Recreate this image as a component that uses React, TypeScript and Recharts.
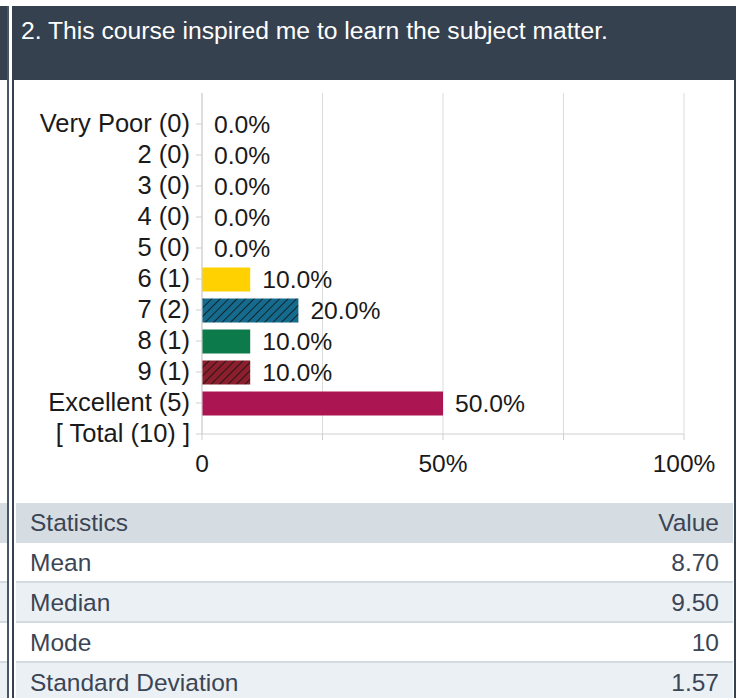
import React from "react";
import {
  BarChart,
  Bar,
  XAxis,
  YAxis,
  CartesianGrid,
  Cell,
  LabelList,
} from "recharts";

const categories = [
  "Very Poor (0)",
  "2 (0)",
  "3 (0)",
  "4 (0)",
  "5 (0)",
  "6 (1)",
  "7 (2)",
  "8 (1)",
  "9 (1)",
  "Excellent (5)",
  "[ Total (10) ]",
];
const percents: (number | null)[] = [0, 0, 0, 0, 0, 10, 20, 10, 10, 50, null];
const barFills = [
  "#ffd100",
  "#ffd100",
  "#ffd100",
  "#ffd100",
  "#ffd100",
  "#ffd100",
  "url(#hatchBlue)",
  "#0c7a4b",
  "url(#hatchRed)",
  "#ab1652",
  "#ab1652",
];
const xTicks = [0, 25, 50, 75, 100];
const xTickLabels: Record<number, string> = { 0: "0", 25: "", 50: "50%", 75: "", 100: "100%" };

const titleText = "2. This course inspired me to learn the subject matter.";
const statsHeader = ["Statistics", "Value"];
const statNames = ["Mean", "Median", "Mode", "Standard Deviation"];
const statValues = ["8.70", "9.50", "10", "1.57"];

const data = categories.map((name, i) => ({ name, pct: percents[i] }));

const FONT = "'Liberation Sans', Arial, Helvetica, sans-serif";
const DARK = "#36414f";
const TEXT_SLATE = "#3b4555";
const HEAD_BG = "#d6dde2";
const ALT_BG = "#ebf0f4";
const SEP = "#d3dae0";

export default function App() {
  const rowTops = [543, 583, 623, 663];
  return (
    <div
      style={{
        position: "absolute",
        left: 0,
        top: 0,
        width: 736,
        height: 698,
        overflow: "hidden",
        background: "#fff",
        fontFamily: FONT,
      }}
    >
      {/* left neighbour panel */}
      <div style={{ position: "absolute", left: 0, top: 6, width: 8, height: 74, background: DARK }} />
      <div style={{ position: "absolute", left: 0, top: 503, width: 7, height: 40, background: HEAD_BG }} />
      {rowTops.map((t, i) => (
        <div
          key={"l" + i}
          style={{
            position: "absolute",
            left: 0,
            top: t,
            width: 7,
            height: 38,
            background: i % 2 === 1 ? ALT_BG : "#fff",
            borderBottom: `2px solid ${SEP}`,
          }}
        />
      ))}
      <div style={{ position: "absolute", left: 7, top: 6, width: 2, height: 692, background: "#4a5565" }} />

      {/* main panel borders */}
      <div style={{ position: "absolute", left: 12, top: 6, width: 2, height: 692, background: DARK }} />
      <div style={{ position: "absolute", left: 734, top: 6, width: 2, height: 692, background: DARK }} />

      {/* header */}
      <div
        style={{
          position: "absolute",
          left: 14,
          top: 6,
          width: 720,
          height: 74,
          background: DARK,
        }}
      />
      <div
        style={{
          position: "absolute",
          left: 21,
          top: 17,
          fontSize: 24.7,
          lineHeight: "28px",
          color: "#ffffff",
          whiteSpace: "nowrap",
        }}
      >
        {titleText}
      </div>

      {/* chart */}
      <div style={{ position: "absolute", left: 14, top: 80 }}>
        <BarChart
          width={720}
          height={423}
          data={data}
          layout="vertical"
          margin={{ top: 13, right: 50, bottom: 29, left: 0 }}
        >
          <defs>
            <pattern
              id="hatchBlue"
              patternUnits="userSpaceOnUse"
              width={6}
              height={6}
              patternTransform="rotate(45)"
            >
              <rect x={0} y={0} width={6} height={6} fill="#146b8e" />
              <line x1={0} y1={0} x2={0} y2={6} stroke="#111" strokeWidth={1.6} />
            </pattern>
            <pattern
              id="hatchRed"
              patternUnits="userSpaceOnUse"
              width={6}
              height={6}
              patternTransform="rotate(45)"
            >
              <rect x={0} y={0} width={6} height={6} fill="#8c1f2e" />
              <line x1={0} y1={0} x2={0} y2={6} stroke="#111" strokeWidth={1.6} />
            </pattern>
          </defs>
          <CartesianGrid horizontal={false} stroke="#dcdcdc" />
          <XAxis
            type="number"
            domain={[0, 100]}
            ticks={xTicks}
            interval={0}
            height={40}
            tickSize={6}
            tickMargin={15}
            tickFormatter={(v: number) => xTickLabels[v] ?? ""}
            tick={{ fontSize: 24.5, fill: "#1a1a1a", fontFamily: FONT }}
            axisLine={{ stroke: "#cfcfcf" }}
            tickLine={{ stroke: "#cfcfcf" }}
          />
          <YAxis
            type="category"
            dataKey="name"
            width={188}
            interval={0}
            tickSize={6}
            tickMargin={6}
            padding={{ top: 15.5, bottom: -15.5 }}
            tick={{ fontSize: 25.5, fill: "#1a1a1a", fontFamily: FONT, dy: -1 }}
            axisLine={{ stroke: "#cfcfcf" }}
            tickLine={{ stroke: "#cfcfcf" }}
          />
          <Bar
            dataKey="pct"
            barSize={24}
            minPointSize={(v: any) => (v === 0 ? 0.01 : 0)}
            isAnimationActive={false}
          >
            {data.map((d, i) => (
              <Cell key={i} fill={barFills[i]} />
            ))}
            <LabelList
              dataKey="pct"
              position="right"
              offset={12}
              fill="#1a1a1a"
              fontSize={24.7}
              fontFamily={FONT}
              formatter={(v: any) =>
                v === null || v === undefined ? "" : `${Number(v).toFixed(1)}%`
              }
            />
          </Bar>
        </BarChart>
      </div>

      {/* statistics table */}
      <div
        style={{
          position: "absolute",
          left: 16,
          top: 503,
          width: 717,
          height: 40,
          background: HEAD_BG,
          color: TEXT_SLATE,
          fontSize: 24.5,
        }}
      >
        <span style={{ position: "absolute", left: 14, top: 0, lineHeight: "40px" }}>{statsHeader[0]}</span>
        <span style={{ position: "absolute", right: 14, top: 0, lineHeight: "40px" }}>{statsHeader[1]}</span>
      </div>
      {statNames.map((name, i) => (
        <div
          key={name}
          style={{
            position: "absolute",
            left: 16,
            top: rowTops[i],
            width: 717,
            height: 38,
            background: i % 2 === 1 ? ALT_BG : "#fff",
            borderBottom: `2px solid ${SEP}`,
            color: TEXT_SLATE,
            fontSize: 24.5,
          }}
        >
          <span style={{ position: "absolute", left: 14, top: 0, lineHeight: "40px" }}>{name}</span>
          <span style={{ position: "absolute", right: 14, top: 0, lineHeight: "40px" }}>{statValues[i]}</span>
        </div>
      ))}
    </div>
  );
}
